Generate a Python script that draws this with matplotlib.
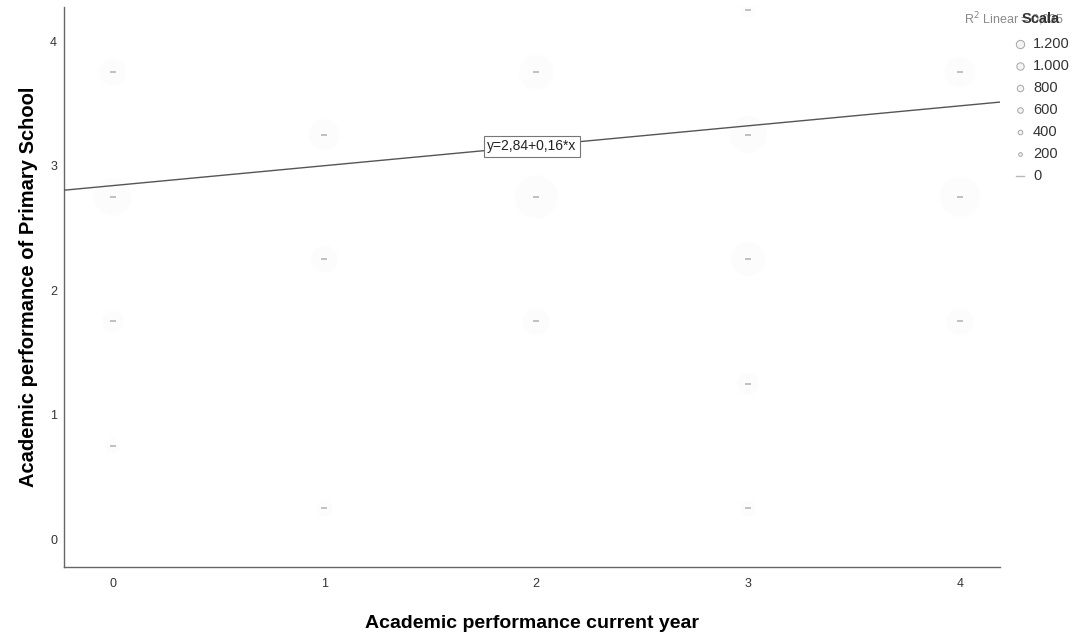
import matplotlib.pyplot as plt
import numpy as np

plt.rcParams["font.family"] = ["Liberation Sans", "DejaVu Sans"]

# observed combinations (current year grade, primary school grade) and counts
grade_now = [0, 0, 0, 0, 1, 1, 1, 2, 2, 2, 3, 3, 3, 3, 3, 4, 4, 4]
grade_primary = [3.75, 2.75, 1.75, 0.75, 3.25, 2.25, 0.25, 3.75, 2.75, 1.75,
                 4.25, 3.25, 2.25, 1.25, 0.25, 3.75, 2.75, 1.75]
counts = [300, 600, 200, 100, 400, 300, 100, 500, 800, 300,
          100, 600, 500, 200, 100, 400, 700, 300]

intercept = 2.84
slope = 0.16
r2 = "0,035"

legend_values = [1200, 1000, 800, 600, 400, 200, 0]
legend_labels = ["1.200", "1.000", "800", "600", "400", "200", "0"]

fig = plt.figure(figsize=(10.86, 6.33), dpi=100)
ax = fig.add_axes([0.0589, 0.1043, 0.862, 0.884])

xmin, xmax = -0.23, 4.19
ymin, ymax = -0.22, 4.27
ax.set_xlim(xmin, xmax)
ax.set_ylim(ymin, ymax)

# very faint bubbles sized by frequency, with a small mark at the centre
sizes = np.array(counts) * 1.2
ax.scatter(grade_now, grade_primary, s=sizes, facecolor="#fcfcfc",
           edgecolor="none", zorder=1)
ax.scatter(grade_now, grade_primary, s=25, marker="_", color="#b0b0b0",
           linewidth=1.1, zorder=2)

# fit line
xs = np.array([xmin, xmax])
ax.plot(xs, intercept + slope * xs, color="#555555", linewidth=1.0, zorder=3)

xe = 1.98
ax.text(xe, intercept + slope * xe, "y=2,84+0,16*x", ha="center", va="center",
        fontsize=10, color="#222222", zorder=4,
        bbox=dict(boxstyle="square,pad=0.25", facecolor="white",
                  edgecolor="#777777", linewidth=0.8))

for side in ["top", "right"]:
    ax.spines[side].set_visible(False)
for side in ["left", "bottom"]:
    ax.spines[side].set_color("#666666")
    ax.spines[side].set_linewidth(1.0)

ax.set_xticks([0, 1, 2, 3, 4])
ax.set_yticks([0, 1, 2, 3, 4])
ax.tick_params(length=0, labelsize=9, colors="#333333")
ax.tick_params(axis="x", pad=8)
ax.tick_params(axis="y", pad=5)

ax.set_xlabel("Academic performance current year", fontsize=14,
              fontweight="bold", labelpad=18)
ax.set_ylabel("Academic performance of Primary School", fontsize=14.5,
              fontweight="bold", labelpad=9)

# legend block in the upper right corner
fig.text(964 / 1086, 1 - 19 / 633, "R$^2$ Linear = " + r2, fontsize=9,
         color="#8a8a8a", ha="left", va="center")
fig.text(1041 / 1086, 1 - 19 / 633, "Scala", fontsize=10.5, fontweight="bold",
         color="#333333", ha="center", va="center")

ly = [44, 66, 88, 110, 132, 154, 176]
for v, lab, py in zip(legend_values, legend_labels, ly):
    yy = 1 - py / 633
    if v > 0:
        ms = 2.0 + v / 300
        fig.lines.append(plt.Line2D([1020 / 1086], [yy], marker="o",
                                    markersize=ms, markerfacecolor="#f4f4f4",
                                    markeredgecolor="#a5a5a5",
                                    markeredgewidth=0.7, linestyle="none",
                                    transform=fig.transFigure))
    else:
        fig.lines.append(plt.Line2D([1016 / 1086, 1024 / 1086], [yy, yy],
                                    color="#b8b8b8", linewidth=1.0,
                                    transform=fig.transFigure))
    fig.text(1033 / 1086, yy, lab, fontsize=10.5, color="#333333",
             ha="left", va="center")

fig.savefig("out.png", dpi=100)
